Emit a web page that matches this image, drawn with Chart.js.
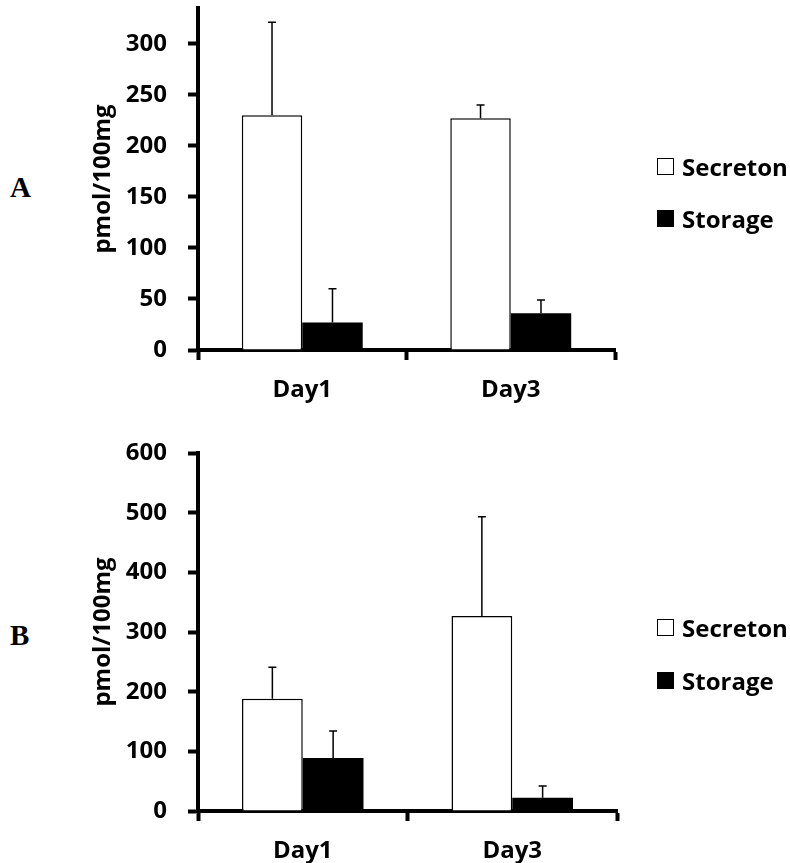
<!DOCTYPE html>
<html>
<head>
<meta charset="utf-8">
<script src="https://cdn.jsdelivr.net/npm/chart.js@4/dist/chart.umd.min.js"></script>
<style>
  body { margin: 0; background: #fff; width: 790px; height: 863px; position: relative; overflow: hidden; }
  canvas { position: absolute; left: 0; }
  .panel { position: absolute; left: 10px; font: bold 29px "Liberation Serif", serif; line-height: 29px; color: #000; }
  .legend { position: absolute; left: 657px; font: bold 24px "Open Sans", sans-serif; color: #000; }
  .item { position: absolute; left: 0; height: 17px; display: flex; align-items: center; white-space: nowrap; }
  .swatch { width: 15px; height: 15px; border: 1px solid #000; margin-right: 8px; flex: none; }
</style>
</head>
<body>
<div class="panel" style="top:173px">A</div>
<div class="panel" style="top:621px">B</div>
<canvas id="chartA" width="790" height="420" style="top:0"></canvas>
<canvas id="chartB" width="790" height="443" style="top:420px"></canvas>
<div class="legend" id="legendA" style="top:158px"></div>
<div class="legend" id="legendB" style="top:619px"></div>
<script>
const days = ["Day1", "Day3"];
const seriesNames = ["Secreton", "Storage"];
const seriesFill = ["#ffffff", "#000000"];
const yTitle = "pmol/100mg";

// panel A
const secretionA = [230, 227];
const secretionErrA = [91, 13];
const storageA = [27, 36];
const storageErrA = [33, 13];

// panel B
const secretionB = [188, 327];
const secretionErrB = [53, 166];
const storageB = [89, 22];
const storageErrB = [45, 20];

const font = { family: "Open Sans", weight: "bold", size: 24 };

// upper error bars only
const errorBars = {
  id: "errorBars",
  afterDatasetsDraw(chart) {
    const ctx = chart.ctx;
    const y = chart.scales.y;
    ctx.save();
    ctx.strokeStyle = "#000";
    ctx.lineWidth = 1.5;
    chart.data.datasets.forEach((ds, i) => {
      chart.getDatasetMeta(i).data.forEach((bar, j) => {
        const top = y.getPixelForValue(ds.data[j] + ds.errors[j]);
        ctx.beginPath();
        ctx.moveTo(bar.x, bar.y);
        ctx.lineTo(bar.x, top);
        ctx.moveTo(bar.x - 4, top);
        ctx.lineTo(bar.x + 4, top);
        ctx.stroke();
      });
    });
    ctx.restore();
  }
};

function makePanel(id, sec, secErr, sto, stoErr, yMax, step, padTop, padRight, xHeight) {
  return new Chart(document.getElementById(id), {
    type: "bar",
    data: {
      labels: days,
      datasets: [
        { label: seriesNames[0], data: sec, errors: secErr, backgroundColor: seriesFill[0], borderColor: "#000", borderWidth: 1.5 },
        { label: seriesNames[1], data: sto, errors: stoErr, backgroundColor: seriesFill[1], borderColor: "#000", borderWidth: 0 },
      ],
    },
    options: {
      responsive: false,
      animation: false,
      layout: { padding: { left: 0, top: padTop, right: padRight, bottom: 0 } },
      plugins: { legend: { display: false }, tooltip: { enabled: false } },
      datasets: { bar: { categoryPercentage: 0.58, barPercentage: 1 } },
      scales: {
        x: {
          offset: true,
          grid: { display: true, offset: true, drawOnChartArea: false, tickLength: 10, tickWidth: 4, tickColor: "#000" },
          border: { display: true, color: "#000", width: 4 },
          ticks: { color: "#000", font: font, padding: 16 },
          afterFit: (s) => { s.height = xHeight; s.paddingLeft = 0; s.paddingRight = 0; },
        },
        y: {
          min: 0,
          max: yMax,
          grid: { display: true, drawOnChartArea: false, tickLength: 10, tickWidth: 4, tickColor: "#000" },
          border: { display: true, color: "#000", width: 4 },
          ticks: { stepSize: step, includeBounds: false, color: "#000", font: font, padding: 21 },
          title: { display: true, text: yTitle, color: "#000", font: font, padding: { top: 89, bottom: 0 } },
          afterFit: (s) => { s.width = 198; s.paddingTop = 0; s.paddingBottom = 0; },
        },
      },
    },
    plugins: [errorBars],
  });
}

makePanel("chartA", secretionA, secretionErrA, storageA, storageErrA, 335, 50, 8, 175, 70);
makePanel("chartB", secretionB, secretionErrB, storageB, storageErrB, 600, 100, 33, 173, 52);

function makeLegend(id, gap) {
  const box = document.getElementById(id);
  seriesNames.forEach((name, i) => {
    const item = document.createElement("div");
    item.className = "item";
    item.style.top = (i * gap) + "px";
    const sw = document.createElement("span");
    sw.className = "swatch";
    sw.style.background = seriesFill[i];
    item.appendChild(sw);
    item.appendChild(document.createTextNode(name));
    box.appendChild(item);
  });
}
makeLegend("legendA", 52);
makeLegend("legendB", 53);
</script>
</body>
</html>
